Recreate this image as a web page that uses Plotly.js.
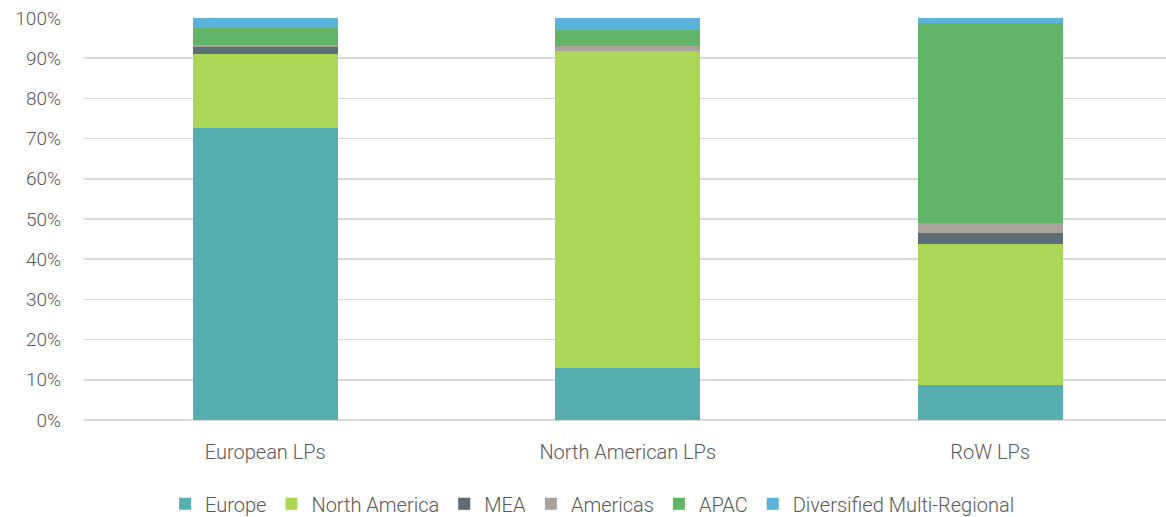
<!DOCTYPE html>
<html>
<head>
<meta charset="utf-8">
<script src="https://cdn.plot.ly/plotly-3.0.1.min.js"></script>
<style>
  html, body { margin: 0; padding: 0; background: #ffffff; }
  #chart { width: 1166px; height: 517px; }
</style>
</head>
<body>
<div id="chart"></div>
<script>
// LP groups along the x axis
const categories = ['European LPs', 'North American LPs', 'RoW LPs'];

// Share of allocations by target region (%), stacked bottom to top
const europe       = [72.7, 12.9, 8.8];
const northAmerica = [18.3, 78.9, 35.0];
const mea          = [1.8, 0.0, 2.6];
const americas     = [0.5, 1.2, 2.5];
const apac         = [4.2, 4.0, 49.8];
const diversified  = [2.5, 3.0, 1.3];

// Percentage axis ticks
const yTickValues = [0, 10, 20, 30, 40, 50, 60, 70, 80, 90, 100];
const yTickLabels = ['0%', '10%', '20%', '30%', '40%', '50%', '60%', '70%', '80%', '90%', '100%'];

const seriesNames  = ['Europe', 'North America', 'MEA', 'Americas', 'APAC', 'Diversified Multi-Regional'];
const seriesValues = [europe, northAmerica, mea, americas, apac, diversified];
const seriesColors = ['#56aeb0', '#acd655', '#5a6d79', '#a9a39b', '#61b468', '#5bb3dc'];

const traces = seriesNames.map((name, i) => ({
  type: 'bar',
  name: name,
  x: categories,
  y: seriesValues[i],
  marker: { color: seriesColors[i] },
  hoverinfo: 'x+y+name'
}));

const baseFont = { family: 'Roboto, "Liberation Sans", sans-serif', weight: 300, color: '#595959' };

const layout = {
  width: 1166,
  height: 517,
  barmode: 'stack',
  bargap: 0.6,
  paper_bgcolor: '#ffffff',
  plot_bgcolor: '#ffffff',
  margin: { l: 84, r: 0, t: 18, b: 97, autoexpand: false },
  font: Object.assign({ size: 19 }, baseFont),
  xaxis: {
    range: [-0.5, 2.485],
    showgrid: false,
    zeroline: false,
    showline: false,
    ticks: '',
    ticklabelstandoff: 18,
    tickfont: Object.assign({ size: 20 }, baseFont)
  },
  yaxis: {
    range: [0, 100],
    tickmode: 'array',
    tickvals: yTickValues,
    ticktext: yTickLabels,
    showgrid: true,
    gridcolor: '#d9d9d9',
    gridwidth: 1.5,
    zeroline: true,
    zerolinecolor: '#d9d9d9',
    zerolinewidth: 1.5,
    ticks: '',
    ticklabelstandoff: 22,
    tickfont: Object.assign({ size: 19 }, baseFont)
  },
  legend: {
    orientation: 'h',
    x: 0.47,
    xanchor: 'center',
    y: -0.16,
    yanchor: 'top',
    traceorder: 'normal',
    font: Object.assign({ size: 20 }, baseFont),
    itemwidth: 30
  },
  showlegend: true
};

Plotly.newPlot('chart', traces, layout, { displayModeBar: false, staticPlot: true });
</script>
</body>
</html>
